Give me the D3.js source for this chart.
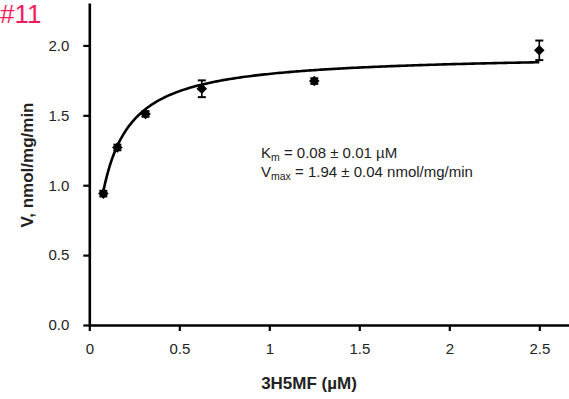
<!DOCTYPE html>
<html><head><meta charset="utf-8">
<script src="https://cdn.jsdelivr.net/npm/d3@7"></script>
<style>
html,body{margin:0;padding:0;background:#fff;}
svg{display:block;}
text{font-family:"Liberation Sans",Arial,sans-serif;}
</style></head>
<body>
<svg id="chart" width="569" height="399"></svg>
<script>
// data
const concentrations = [0.078, 0.156, 0.3125, 0.625, 1.25, 2.5];
const rates = [0.94, 1.27, 1.51, 1.69, 1.745, 1.965];
const errors = [0.02, 0.02, 0.02, 0.06, 0.02, 0.07];
const xTicks = [0, 0.5, 1, 1.5, 2, 2.5];
const yTicks = [0, 0.5, 1.0, 1.5, 2.0];
const fitKm = 0.08;
const fitVmax = 1.94;
const panelLabel = "#11";
const xTitle = "3H5MF (\u00B5M)";
const yTitle = "V, nmol/mg/min";

const svg = d3.select("#chart");
const x = d3.scaleLinear().domain([0, 2.7]).range([89.3, 89.3 + 180 * 2.7]);
const y = d3.scaleLinear().domain([0, 2.3]).range([325, 3.5]);

// fit curve (Michaelis-Menten with the stated parameters)
const curveX = d3.range(0, 201).map(i => concentrations[0] + (concentrations[concentrations.length-1] - concentrations[0]) * i / 200);
const line = d3.line().x(d => x(d)).y(d => y(fitVmax * d / (fitKm + d))).curve(d3.curveLinear);
svg.append("path").attr("d", line(curveX)).attr("fill", "none").attr("stroke", "#000").attr("stroke-width", 2.6);

// error bars
const eb = svg.append("g").attr("stroke", "#000").attr("stroke-width", 1.6);
concentrations.forEach((c, i) => {
  const cx = x(c), top = y(rates[i] + errors[i]), bot = y(rates[i] - errors[i]);
  eb.append("line").attr("x1", cx).attr("x2", cx).attr("y1", top).attr("y2", bot);
  eb.append("line").attr("x1", cx - 4).attr("x2", cx + 4).attr("y1", top).attr("y2", top).attr("stroke-width", 2);
  eb.append("line").attr("x1", cx - 4).attr("x2", cx + 4).attr("y1", bot).attr("y2", bot).attr("stroke-width", 2);
});

// markers
const sym = d3.symbol().type(d3.symbolSquare).size(56);
svg.append("g").selectAll("path").data(concentrations).join("path")
  .attr("d", sym)
  .attr("transform", (d, i) => `translate(${x(d)},${y(rates[i])}) rotate(45)`)
  .attr("fill", "#000");

// axes
const xAxis = d3.axisBottom(x).tickValues(xTicks).tickFormat(d3.format("")).tickSize(6).tickSizeOuter(0).tickPadding(12);
const gx = svg.append("g").attr("transform", `translate(0,${y(0)})`).call(xAxis);
const yAxis = d3.axisLeft(y).tickValues(yTicks).tickFormat(d3.format(".1f")).tickSize(6).tickSizeOuter(0).tickPadding(14);
const gy = svg.append("g").attr("transform", `translate(${x(0)},0)`).call(yAxis);
[gx, gy].forEach(g => {
  g.select(".domain").attr("stroke", "#000").attr("stroke-width", 2.6);
  g.selectAll(".tick line").attr("stroke", "#000").attr("stroke-width", 2.2);
  g.selectAll(".tick text").attr("fill", "#222").attr("font-size", 15).attr("font-family", "'Liberation Sans',Arial,sans-serif");
});
gx.select(".domain").attr("d", `M${x(0)},0.5H${x(2.7)}`);
gy.select(".domain").attr("d", `M0.5,${y(0)}V${y(2.3)}`);

// titles
svg.append("text").attr("x", 309).attr("y", 389).attr("text-anchor", "middle")
  .attr("font-size", 17).attr("font-weight", "bold").attr("fill", "#222").text(xTitle);
svg.append("text").attr("transform", `translate(33,165) rotate(-90)`).attr("text-anchor", "middle")
  .attr("font-size", 17).attr("font-weight", "bold").attr("fill", "#222").text(yTitle);

// panel label
svg.append("text").attr("x", 0).attr("y", 23).attr("font-size", 26).attr("fill", "#ee1c5c").text(panelLabel);

// annotation
const ann = svg.append("g").attr("font-size", 15).attr("fill", "#222");
const t1 = ann.append("text").attr("x", 261).attr("y", 158);
t1.append("tspan").text("K");
t1.append("tspan").attr("font-size", 10.5).attr("dy", 3).text("m");
t1.append("tspan").attr("dy", -3).text(" = 0.08 \u00B1 0.01 \u00B5M");
const t2 = ann.append("text").attr("x", 261).attr("y", 177);
t2.append("tspan").text("V");
t2.append("tspan").attr("font-size", 10.5).attr("dy", 3).text("max");
t2.append("tspan").attr("dy", -3).text(" = 1.94 \u00B1 0.04 nmol/mg/min");
</script>
</body></html>
